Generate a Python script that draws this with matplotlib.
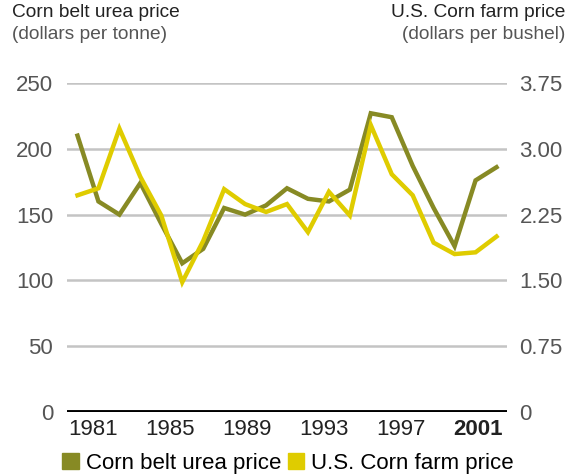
import numpy as np
import matplotlib.pyplot as plt
from matplotlib.patches import Patch

plt.rcParams['font.family'] = ['Liberation Sans', 'DejaVu Sans']

# data
years = np.arange(1981, 2002)
urea_price = [210, 160, 150, 174, 143, 113, 124, 155, 150, 157, 170, 162, 160, 169,
              227, 224, 187, 155, 126, 176, 186]
corn_price = [2.47, 2.55, 3.23, 2.68, 2.24, 1.48, 1.95, 2.54, 2.37, 2.28, 2.37, 2.05,
              2.51, 2.24, 3.27, 2.71, 2.47, 1.93, 1.80, 1.82, 2.00]
year_labels = ['1981', '1985', '1989', '1993', '1997', '2001']
left_ticks = [0, 50, 100, 150, 200, 250]
right_ticks = ['0', '0.75', '1.50', '2.25', '3.00', '3.75']

olive = '#878a24'
yellow = '#dfcc00'

fig = plt.figure(figsize=(5.69, 4.76), dpi=100)
ax = fig.add_axes([0.1178, 0.1345, 0.7732, 0.6911])
ax2 = ax.twinx()

for y in left_ticks[1:]:
    ax.axhline(y, color='#c4c4c4', lw=1.8, zorder=1)
ax.axhline(0, color='black', lw=2.8, zorder=3)

ax.plot(years, urea_price, color=olive, lw=3.2, solid_joinstyle='miter', zorder=4)
ax2.plot(years, corn_price, color=yellow, lw=3.2, solid_joinstyle='miter', zorder=5)

ax.set_xlim(1980.5, 2001.5)
ax.set_ylim(0, 250)
ax2.set_ylim(0, 3.75)

ax.set_yticks(left_ticks)
ax.set_yticklabels([str(v) for v in left_ticks])
ax2.set_yticks(np.linspace(0, 3.75, 6))
ax2.set_yticklabels(right_ticks)

ax.set_xticks(np.linspace(1981.72, 2000.14, 6))
ax.set_xticklabels(year_labels)
ax.get_xticklabels()[-1].set_fontweight('bold')

ax.tick_params(axis='x', length=0, pad=5, labelsize=16, labelcolor='#222222')
ax.tick_params(axis='y', length=0, pad=10, labelsize=16, labelcolor='#555555')
ax2.tick_params(axis='y', length=0, pad=9, labelsize=16, labelcolor='#555555')

for a in (ax, ax2):
    for s in a.spines.values():
        s.set_visible(False)

fig.text(12 / 569, 1 - 4 / 476, 'Corn belt urea price', ha='left', va='top',
         fontsize=13.8, color='#222222')
fig.text(12 / 569, 1 - 26 / 476, '(dollars per tonne)', ha='left', va='top',
         fontsize=13.8, color='#555555')
fig.text(565 / 569, 1 - 4 / 476, 'U.S. Corn farm price', ha='right', va='top',
         fontsize=13.8, color='#222222')
fig.text(565 / 569, 1 - 26 / 476, '(dollars per bushel)', ha='right', va='top',
         fontsize=13.8, color='#555555')

handles = [Patch(color=olive, label='Corn belt urea price'),
           Patch(color=yellow, label='U.S. Corn farm price')]
fig.legend(handles=handles, loc='center', bbox_to_anchor=(288 / 569, 1 - 463 / 476),
           ncol=2, frameon=False, fontsize=16, handlelength=0.75, handleheight=0.75,
           handletextpad=0.3, columnspacing=0.3, borderpad=0, borderaxespad=0)

fig.savefig('out.png', dpi=100)
